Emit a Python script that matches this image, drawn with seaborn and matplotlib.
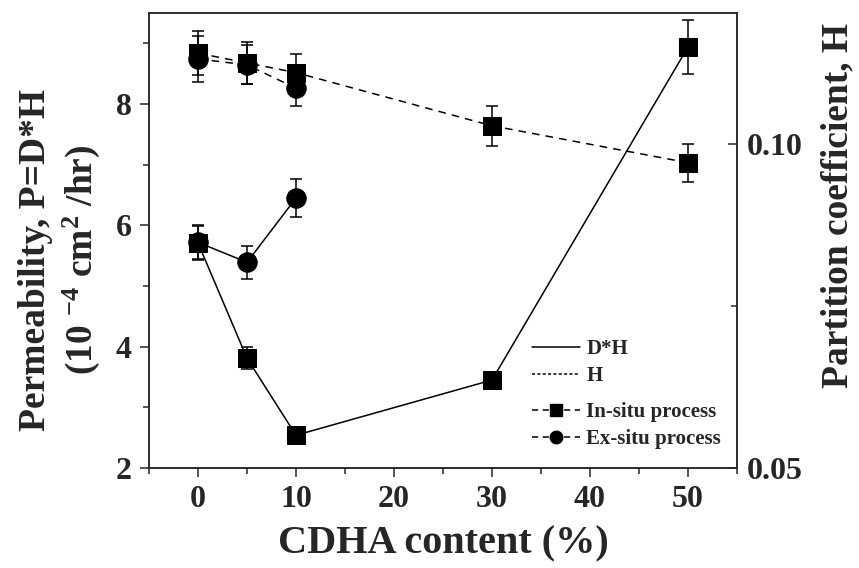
import numpy as np
import pandas as pd
import matplotlib
matplotlib.use('Agg')
import matplotlib.pyplot as plt
import matplotlib.lines as mlines
from matplotlib.ticker import MultipleLocator, FormatStrFormatter
import seaborn as sns

## =============================== ##
## data

content_in = [0, 5, 10, 30, 50]
perm_in = [5.71, 3.81, 2.54, 3.45, 8.94]
perm_in_err = [0.28, 0.18, 0.08, 0.08, 0.44]
part_in = [0.1140, 0.1125, 0.1110, 0.1028, 0.0971]
part_in_err = [0.0034, 0.0033, 0.0029, 0.0031, 0.0029]

content_ex = [0, 5, 10]
perm_ex = [5.72, 5.39, 6.45]
perm_ex_err = [0.28, 0.27, 0.32]
part_ex = [0.1131, 0.1122, 0.1086]
part_ex_err = [0.0035, 0.0030, 0.0028]

## =============================== ##

sns.set_style('ticks')
plt.rcParams['font.family'] = ['Liberation Serif', 'DejaVu Serif']
plt.rcParams['font.weight'] = 'bold'
plt.rcParams['mathtext.fontset'] = 'custom'
plt.rcParams['mathtext.rm'] = 'Liberation Serif:bold'
plt.rcParams['mathtext.bf'] = 'Liberation Serif:bold'
plt.rcParams['mathtext.default'] = 'rm'
plt.rcParams['axes.linewidth'] = 1.1

dfi = pd.DataFrame({'x': content_in, 'P': perm_in, 'Perr': perm_in_err, 'H': part_in, 'Herr': part_in_err})
dfe = pd.DataFrame({'x': content_ex, 'P': perm_ex, 'Perr': perm_ex_err, 'H': part_ex, 'Herr': part_ex_err})

W, H = 859, 568
fig = plt.figure(figsize=(W/100, H/100), dpi=100)
ax = fig.add_axes([149/W, 1-468/H, 588/W, 455/H])
ax2 = ax.twinx()

ekw = dict(fmt='none', ecolor='k', elinewidth=1.1, capsize=4.5, capthick=1.1)

# permeability D*H, solid
sns.lineplot(ax=ax, data=dfi, x='x', y='P', color='k', lw=1.1, marker='s', markersize=12.5,
             markeredgecolor='k', markerfacecolor='k')
sns.lineplot(ax=ax, data=dfe, x='x', y='P', color='k', lw=1.1, marker='o', markersize=14,
             markeredgecolor='k', markerfacecolor='k')
ax.errorbar(dfi['x'], dfi['P'], yerr=dfi['Perr'], **ekw)
ax.errorbar(dfe['x'], dfe['P'], yerr=dfe['Perr'], **ekw)

# partition coefficient H, dashed
sns.lineplot(ax=ax2, data=dfi, x='x', y='H', color='k', lw=1.1, linestyle=(0, (5, 4)), marker='s',
             markersize=12.5, markeredgecolor='k', markerfacecolor='k')
sns.lineplot(ax=ax2, data=dfe, x='x', y='H', color='k', lw=1.1, linestyle=(0, (5, 4)), marker='o',
             markersize=14, markeredgecolor='k', markerfacecolor='k')
ax2.errorbar(dfi['x'], dfi['H'], yerr=dfi['Herr'], **ekw)
ax2.errorbar(dfe['x'], dfe['H'], yerr=dfe['Herr'], **ekw)

ax.set_xlim(-5, 55)
ax.set_ylim(2, 9.5)
ax2.set_ylim(0.05, 0.1202)

ax.xaxis.set_major_locator(MultipleLocator(10))
ax.xaxis.set_minor_locator(MultipleLocator(5))
ax.yaxis.set_major_locator(MultipleLocator(2))
ax.yaxis.set_minor_locator(MultipleLocator(1))
ax2.yaxis.set_major_locator(MultipleLocator(0.05))
ax2.yaxis.set_minor_locator(MultipleLocator(0.025))
ax2.yaxis.set_major_formatter(FormatStrFormatter('%.2f'))

ax.tick_params(which='both', direction='out', width=1.1, labelsize=23, top=False, right=False)
ax.tick_params(which='major', length=6.5, pad=6)
ax.tick_params(which='minor', length=4.5)
ax2.tick_params(which='both', direction='in', width=1.1, labelsize=23)
ax2.tick_params(which='major', length=6.5, pad=7)
ax2.tick_params(which='minor', length=4.5)
for a in (ax, ax2):
    for s in a.spines.values():
        s.set_visible(True)
        s.set_linewidth(1.1)

ax.set_xlabel('CDHA content (%)', fontsize=29, fontweight='bold', labelpad=8)
ax.set_ylabel('Permeability, P=D*H\n(10 $^{-4}$ cm$^{2}$ /hr)', fontsize=27, fontweight='bold',
              linespacing=1.25)
ax.yaxis.set_label_coords((102-149)/588, 0.457)
ax2.set_ylabel('Partition coefficient, H', fontsize=27, fontweight='bold')
ax2.yaxis.set_label_coords((820-149)/588, 0.578)

# legends
h1 = [mlines.Line2D([], [], color='k', lw=1.1),
      mlines.Line2D([], [], color='k', lw=1.1, linestyle=(0, (2, 1.5)))]
h2 = [mlines.Line2D([], [], color='k', lw=1.1, linestyle=(0, (4, 3)), marker='s', markersize=8),
      mlines.Line2D([], [], color='k', lw=1.1, linestyle=(0, (4, 3)), marker='o', markersize=9)]
lkw = dict(frameon=False, loc='upper left', prop={'family': 'Liberation Serif', 'weight': 'bold', 'size': 15},
           handletextpad=0.3, borderpad=0, borderaxespad=0, labelspacing=0.35)
leg1 = ax.legend(h1, ['D*H', 'H'], bbox_to_anchor=((532-149)/588, (468-339)/455), handlelength=2.3, **lkw)
ax.add_artist(leg1)
ax.legend(h2, ['In-situ process', 'Ex-situ process'], bbox_to_anchor=((532-149)/588, (468-402)/455),
          handlelength=2.3, **lkw)

fig.savefig('out.png', dpi=100)
